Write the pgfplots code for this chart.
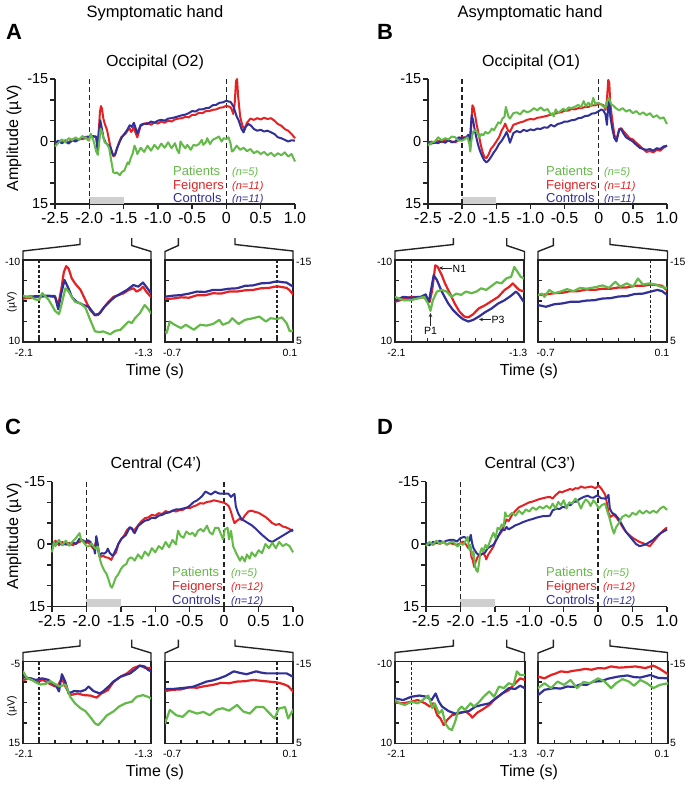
\documentclass[border=0pt]{standalone}
\usepackage{pgfplots}
\pgfplotsset{compat=1.18}
\usepackage{pgfplotstable}
\usepackage{fontspec}
\setmainfont{Liberation Sans}
\usetikzlibrary{arrows.meta}

\definecolor{pg}{RGB}{100,186,72}
\definecolor{pr}{RGB}{228,34,36}
\definecolor{pb}{RGB}{48,48,152}
\definecolor{ax}{RGB}{35,35,35}

% ---------------- Panel A (O2, symptomatic) ----------------
\pgfplotstableread[row sep=\\]{t v\\
-2.5 1.2\\-2.45 0.3\\-2.4 -0.5\\-2.35 0.2\\-2.3 -0.8\\-2.25 -0.3\\-2.2 -1.0\\-2.15 -0.4\\
-2.1 -1.3\\-2.075 -0.9\\-2.05 -1.0\\-2.025 -0.4\\-2.0 -0.2\\-1.98 -1.9\\-1.96 -1.1\\-1.94 -0.3\\-1.92 1.0\\-1.9 2.4\\-1.875 3.2\\-1.86 1.0\\-1.835 -3.1\\-1.815 -2.3\\-1.795 -1.0\\-1.775 0.2\\-1.74 0.6\\-1.71 1.6\\-1.68 4.6\\-1.65 7.4\\-1.62 7.6\\-1.6 7.4\\-1.555 8.1\\-1.525 7.3\\-1.49 7.0\\-1.46 5.8\\-1.44 5.0\\-1.42 5.4\\-1.4 4.2\\-1.37 3.0\\-1.34 1.0\\-1.32 1.8\\-1.3 3.0\\
-1.25 1.5\\-1.2 2.5\\-1.15 1.0\\-1.1 2.2\\-1.05 0.8\\-1.0 1.8\\-0.95 0.5\\-0.9 1.5\\-0.85 0.2\\-0.8 1.6\\-0.75 0.4\\-0.72 2.0\\
-0.69 2.8\\-0.67 0.0\\-0.64 0.8\\-0.6 1.6\\-0.57 0.8\\-0.52 2.0\\-0.48 0.8\\-0.44 1.0\\-0.4 0.6\\-0.36 -0.4\\-0.34 0.8\\-0.3 0.2\\-0.28 -0.8\\-0.24 0.6\\-0.2 -0.4\\-0.15 -0.8\\-0.11 -1.2\\-0.07 0.0\\-0.04 -0.8\\0.0 -0.6\\0.03 -1.0\\0.06 0.4\\0.08 2.4\\0.1 2.2\\
0.15 1.0\\0.2 2.0\\0.25 1.5\\0.3 2.3\\0.35 1.8\\0.4 2.8\\0.45 2.3\\0.5 3.0\\0.55 2.5\\0.6 3.3\\0.65 2.7\\0.7 3.5\\0.75 2.8\\0.8 3.3\\0.85 2.6\\0.9 3.6\\0.95 3.0\\1.0 4.8\\
}\Ag
\pgfplotstableread[row sep=\\]{t v\\
-2.5 0.5\\-2.45 0.0\\-2.4 0.3\\-2.35 -0.3\\-2.3 0.2\\-2.25 -0.5\\-2.2 -0.3\\-2.15 -0.6\\
-2.1 -0.6\\-2.05 -0.8\\-2.0 -1.0\\-1.95 -1.2\\-1.9 -1.0\\-1.88 1.0\\-1.86 -3.0\\-1.845 -7.0\\-1.83 -8.5\\-1.815 -7.9\\-1.795 -5.5\\-1.775 -4.3\\-1.74 -2.7\\-1.71 -0.2\\-1.68 2.2\\-1.65 3.5\\-1.63 3.4\\-1.6 1.8\\-1.565 0.2\\-1.535 -1.0\\-1.5 -1.5\\-1.47 -1.9\\-1.44 -2.7\\-1.41 -3.1\\-1.39 -2.3\\-1.37 -2.7\\-1.35 -3.5\\-1.33 -2.3\\-1.3 -1.0\\
-1.25 -3.8\\-1.2 -4.2\\-1.15 -4.5\\-1.1 -4.0\\-1.05 -4.6\\-1.0 -4.3\\-0.95 -4.8\\-0.9 -4.5\\-0.85 -5.0\\-0.8 -4.8\\-0.75 -5.3\\
-0.7 -5.5\\-0.65 -5.6\\-0.6 -5.9\\-0.55 -5.8\\-0.5 -6.4\\-0.45 -6.4\\-0.4 -6.9\\-0.35 -6.8\\-0.3 -7.3\\-0.25 -7.3\\-0.2 -7.6\\-0.15 -7.7\\-0.1 -8.1\\-0.05 -8.2\\0.0 -8.6\\0.03 -8.4\\0.06 -8.2\\0.08 -7.6\\0.1 -6.6\\
0.12 -9.0\\0.14 -14.5\\0.155 -15.0\\0.17 -11.0\\0.2 -6.0\\0.23 -4.0\\0.26 -2.8\\0.3 -4.5\\0.35 -5.5\\0.4 -5.2\\0.45 -5.6\\0.5 -5.3\\0.55 -5.7\\0.6 -5.4\\0.65 -5.6\\0.7 -5.0\\0.75 -4.2\\0.8 -3.8\\0.85 -3.0\\0.9 -2.6\\0.95 -1.8\\1.0 -0.8\\
}\Ar
\pgfplotstableread[row sep=\\]{t v\\
-2.5 0.3\\-2.45 -0.2\\-2.4 0.4\\-2.35 0.0\\-2.3 0.5\\-2.25 -0.3\\-2.2 0.0\\-2.15 -0.5\\
-2.1 -1.0\\-2.05 -1.1\\-2.0 -1.2\\-1.95 -1.3\\-1.9 -1.2\\-1.88 2.0\\-1.86 -2.0\\-1.84 -5.1\\-1.815 -3.0\\-1.795 -1.0\\-1.765 0.2\\-1.72 1.0\\-1.69 1.4\\-1.65 3.4\\-1.62 3.0\\-1.59 1.4\\-1.555 0.0\\-1.525 -1.0\\-1.49 -1.8\\-1.45 -2.7\\-1.41 -3.9\\-1.38 -3.5\\-1.35 -4.5\\-1.33 -3.5\\-1.3 -1.9\\
-1.25 -4.0\\-1.2 -4.3\\-1.15 -4.2\\-1.1 -4.8\\-1.05 -4.5\\-1.0 -5.0\\-0.95 -5.2\\-0.9 -5.0\\-0.85 -5.5\\-0.8 -5.6\\-0.75 -5.8\\
-0.7 -6.05\\-0.65 -6.3\\-0.6 -6.45\\-0.55 -6.8\\-0.5 -7.3\\-0.45 -7.2\\-0.4 -7.7\\-0.35 -7.7\\-0.3 -8.0\\-0.25 -8.1\\-0.2 -8.7\\-0.15 -8.8\\-0.1 -9.3\\-0.05 -9.4\\0.0 -9.8\\0.03 -9.6\\0.06 -9.5\\0.08 -9.0\\0.1 -8.5\\
0.12 -7.5\\0.15 -6.0\\0.18 -5.0\\0.22 -3.0\\0.25 -2.2\\0.28 -3.5\\0.32 -4.2\\0.36 -3.8\\0.4 -3.0\\0.45 -2.6\\0.5 -2.8\\0.55 -2.4\\0.6 -2.6\\0.65 -2.2\\0.7 -1.8\\0.75 -1.0\\0.8 -0.8\\0.85 -0.4\\0.9 0.0\\0.95 -0.3\\1.0 -0.2\\
}\Ab

% ---------------- Panel B (O1, asymptomatic) ----------------
\pgfplotstableread[row sep=\\]{t v\\
-2.5 1.0\\-2.45 0.3\\-2.4 0.0\\-2.35 -1.0\\-2.3 -0.3\\-2.25 -0.8\\-2.2 -0.5\\-2.15 -1.2\\
-2.1 -1.0\\-2.05 -0.2\\-2.0 -0.2\\-1.96 -0.6\\-1.92 -1.0\\-1.895 0.6\\-1.88 2.4\\-1.865 -0.2\\-1.84 -2.3\\-1.81 -2.7\\-1.78 -2.3\\-1.75 -1.0\\-1.72 -1.8\\-1.69 -1.5\\-1.66 -2.3\\-1.625 -1.9\\-1.595 -2.3\\-1.565 -3.1\\-1.535 -2.7\\-1.5 -3.7\\-1.47 -4.6\\-1.44 -4.3\\-1.41 -5.5\\-1.38 -5.9\\-1.36 -8.3\\-1.34 -7.1\\-1.32 -5.9\\-1.3 -5.5\\
-1.25 -6.8\\-1.2 -7.0\\-1.15 -6.5\\-1.1 -7.5\\-1.05 -7.0\\-1.0 -7.3\\-0.95 -8.0\\-0.9 -7.5\\-0.85 -8.2\\-0.8 -7.4\\-0.75 -7.8\\
-0.7 -6.45\\-0.675 -6.8\\-0.66 -6.0\\-0.63 -7.7\\-0.6 -6.9\\-0.56 -7.3\\-0.52 -7.9\\-0.48 -7.4\\-0.44 -8.2\\-0.4 -8.0\\-0.34 -8.4\\-0.3 -8.8\\-0.26 -8.2\\-0.22 -9.7\\-0.19 -8.5\\-0.15 -9.3\\-0.11 -8.5\\-0.08 -10.5\\-0.05 -9.0\\-0.01 -9.3\\0.03 -9.0\\0.06 -8.5\\0.1 -8.1\\
0.12 -9.5\\0.15 -10.5\\0.18 -9.0\\0.22 -8.5\\0.25 -8.0\\0.3 -7.5\\0.35 -8.0\\0.4 -7.2\\0.45 -7.6\\0.5 -6.8\\0.55 -7.3\\0.6 -6.5\\0.65 -7.0\\0.7 -6.3\\0.75 -6.8\\0.8 -5.8\\0.85 -6.3\\0.9 -5.5\\0.95 -5.8\\1.0 -4.2\\
}\Bg
\pgfplotstableread[row sep=\\]{t v\\
-2.5 0.5\\-2.45 0.0\\-2.4 0.4\\-2.35 -0.2\\-2.3 0.2\\-2.25 -0.4\\-2.2 -0.2\\-2.15 0.0\\
-2.1 0.2\\-2.05 -0.4\\-2.0 -1.0\\-1.95 -1.0\\-1.915 -0.8\\-1.885 0.2\\-1.87 -2.5\\-1.85 -8.7\\-1.835 -8.3\\-1.81 -6.3\\-1.79 -4.3\\-1.76 -1.9\\-1.73 0.6\\-1.7 2.6\\-1.67 3.8\\-1.645 4.0\\-1.615 3.2\\-1.58 1.8\\-1.54 1.0\\-1.5 0.0\\-1.46 -1.0\\-1.42 -2.7\\-1.39 -3.5\\-1.37 -4.3\\-1.35 -3.5\\-1.33 -2.7\\-1.3 -2.3\\
-1.25 -4.0\\-1.2 -4.3\\-1.15 -4.6\\-1.1 -4.8\\-1.05 -5.2\\-1.0 -5.4\\-0.95 -5.3\\-0.9 -5.7\\-0.85 -5.8\\-0.8 -6.0\\-0.75 -6.2\\
-0.7 -6.45\\-0.65 -6.6\\-0.6 -6.9\\-0.55 -7.0\\-0.5 -7.4\\-0.45 -7.4\\-0.4 -7.8\\-0.35 -7.7\\-0.3 -8.0\\-0.25 -8.0\\-0.2 -8.3\\-0.15 -8.3\\-0.1 -8.7\\-0.05 -8.7\\0.0 -9.0\\0.04 -8.9\\0.07 -8.7\\0.1 -7.6\\
0.12 -10.0\\0.14 -14.8\\0.155 -14.0\\0.17 -9.0\\0.2 -5.0\\0.23 -1.5\\0.26 -0.5\\0.3 -3.0\\0.33 -3.2\\0.36 -2.5\\0.4 -1.8\\0.45 -0.8\\0.5 -0.5\\0.55 0.3\\0.6 1.0\\0.65 1.8\\0.7 2.5\\0.75 2.3\\0.8 2.6\\0.85 2.0\\0.9 2.2\\0.95 1.5\\1.0 1.0\\
}\Br
\pgfplotstableread[row sep=\\]{t v\\
-2.5 0.0\\-2.45 0.5\\-2.4 0.2\\-2.35 0.4\\-2.3 -0.2\\-2.25 0.3\\-2.2 -0.3\\-2.15 0.2\\
-2.1 0.0\\-2.05 -1.0\\-2.0 -0.8\\-1.94 -1.0\\-1.91 -1.6\\-1.89 0.2\\-1.86 -6.3\\-1.84 -5.1\\-1.81 -2.3\\-1.77 0.6\\-1.74 2.2\\-1.71 3.4\\-1.68 4.4\\-1.645 5.0\\-1.615 4.6\\-1.58 3.8\\-1.54 2.7\\-1.5 1.8\\-1.46 0.6\\-1.42 -0.2\\-1.38 -1.3\\-1.35 -2.3\\-1.33 -1.5\\-1.3 0.3\\
-1.25 -2.0\\-1.2 -2.5\\-1.15 -2.2\\-1.1 -2.8\\-1.05 -2.5\\-1.0 -2.9\\-0.95 -2.7\\-0.9 -3.1\\-0.85 -3.0\\-0.8 -3.4\\-0.75 -3.3\\
-0.7 -4.0\\-0.65 -3.6\\-0.6 -4.2\\-0.55 -4.4\\-0.5 -4.8\\-0.45 -4.8\\-0.4 -5.1\\-0.35 -5.2\\-0.3 -5.6\\-0.25 -5.7\\-0.2 -6.1\\-0.15 -6.2\\-0.1 -6.7\\-0.05 -6.8\\0.0 -7.3\\0.04 -7.7\\0.07 -7.4\\0.1 -6.5\\
0.12 -4.0\\0.14 -8.5\\0.155 -10.0\\0.17 -6.0\\0.2 -3.0\\0.23 -0.8\\0.26 0.0\\0.3 -2.8\\0.33 -3.0\\0.36 -2.0\\0.4 -1.0\\0.45 -0.5\\0.5 0.0\\0.55 0.8\\0.6 1.5\\0.65 1.8\\0.7 2.0\\0.75 1.8\\0.8 2.2\\0.85 1.6\\0.9 1.8\\0.95 1.2\\1.0 1.0\\
}\Bb

% ---------------- Panel C (C4', symptomatic) ----------------
\pgfplotstableread[row sep=\\]{t v\\
-2.5 2.0\\-2.47 -0.5\\-2.45 0.5\\-2.4 -1.0\\-2.35 0.3\\-2.3 -0.8\\-2.25 0.4\\-2.2 -0.6\\-2.15 -1.5\\
-2.1 -2.6\\-2.075 -0.9\\-2.045 -0.5\\-2.01 0.3\\-1.99 0.6\\-1.96 0.5\\-1.93 -0.2\\-1.9 0.5\\-1.87 1.1\\-1.835 0.6\\-1.805 3.6\\-1.775 5.2\\-1.74 6.4\\-1.71 7.1\\-1.68 8.5\\-1.65 10.1\\-1.63 10.5\\-1.61 9.7\\-1.575 8.1\\-1.535 7.2\\-1.5 6.0\\-1.46 5.2\\-1.42 4.8\\-1.39 3.6\\-1.35 3.2\\-1.32 3.6\\-1.3 4.0\\
-1.25 2.5\\-1.2 3.5\\-1.15 1.8\\-1.1 2.8\\-1.05 1.0\\-1.0 2.0\\-0.95 0.5\\-0.9 1.2\\-0.85 -0.5\\-0.8 0.8\\-0.75 -1.0\\
-0.7 0.1\\-0.67 -3.2\\-0.63 -1.9\\-0.59 -1.5\\-0.55 -3.0\\-0.5 -2.3\\-0.46 -2.7\\-0.42 -1.9\\-0.38 -3.2\\-0.34 -3.6\\-0.3 -3.0\\-0.25 -4.4\\-0.21 -2.8\\-0.17 -2.3\\-0.13 -3.9\\-0.085 -3.9\\-0.045 -2.3\\-0.015 -1.1\\0.01 -3.5\\0.05 -3.9\\0.07 -1.1\\0.1 -3.2\\
0.13 0.5\\0.17 2.0\\0.2 3.0\\0.23 4.0\\0.26 3.0\\0.3 4.2\\0.33 2.5\\0.37 3.5\\0.4 2.0\\0.45 3.0\\0.5 1.5\\0.55 2.2\\0.6 0.0\\0.65 1.0\\0.7 -0.3\\0.75 1.0\\0.8 -0.5\\0.85 0.5\\0.9 0.0\\0.95 0.5\\1.0 2.0\\
}\Cg
\pgfplotstableread[row sep=\\]{t v\\
-2.5 0.5\\-2.45 -0.8\\-2.4 0.3\\-2.35 -0.5\\-2.3 0.2\\-2.25 -0.3\\-2.2 0.3\\-2.15 -0.2\\
-2.1 -0.5\\-2.05 -0.9\\-2.01 -0.1\\-1.975 -0.5\\-1.94 0.3\\-1.9 1.1\\-1.88 0.7\\-1.857 -0.9\\-1.835 1.1\\-1.805 3.2\\-1.76 2.8\\-1.72 3.2\\-1.68 3.3\\-1.64 3.8\\-1.61 2.8\\-1.57 2.0\\-1.535 0.0\\-1.49 -1.3\\-1.45 -2.1\\-1.41 -3.4\\-1.37 -4.0\\-1.34 -3.5\\-1.3 -3.4\\
-1.25 -4.5\\-1.2 -5.5\\-1.15 -6.2\\-1.1 -6.4\\-1.05 -7.0\\-1.0 -6.8\\-0.95 -7.4\\-0.9 -7.2\\-0.85 -7.9\\-0.8 -7.6\\-0.75 -8.0\\
-0.7 -7.8\\-0.65 -8.1\\-0.6 -8.2\\-0.55 -8.7\\-0.5 -8.6\\-0.45 -9.0\\-0.4 -9.3\\-0.35 -9.8\\-0.3 -9.7\\-0.25 -10.1\\-0.2 -10.2\\-0.15 -10.5\\-0.1 -10.3\\-0.05 -10.1\\0.0 -9.9\\0.04 -9.5\\0.07 -9.0\\0.1 -7.7\\
0.12 -6.5\\0.15 -5.0\\0.18 -5.5\\0.22 -6.0\\0.26 -5.8\\0.3 -6.8\\0.35 -7.8\\0.4 -8.0\\0.45 -7.7\\0.5 -7.5\\0.55 -7.0\\0.6 -6.5\\0.65 -5.8\\0.7 -5.0\\0.75 -4.6\\0.8 -4.8\\0.85 -4.2\\0.9 -4.0\\0.95 -3.6\\1.0 -3.0\\
}\Cr
\pgfplotstableread[row sep=\\]{t v\\
-2.5 0.3\\-2.45 0.0\\-2.4 -0.3\\-2.35 0.2\\-2.3 -0.2\\-2.25 0.3\\-2.2 -0.4\\-2.15 0.0\\
-2.1 -1.3\\-2.06 -0.9\\-2.02 -0.5\\-1.98 -0.9\\-1.94 -0.5\\-1.89 1.1\\-1.875 2.3\\-1.857 -1.9\\-1.835 0.0\\-1.815 2.8\\-1.78 2.2\\-1.74 2.3\\-1.71 1.9\\-1.69 1.1\\-1.66 2.2\\-1.62 2.8\\-1.6 2.3\\-1.565 1.1\\-1.535 -0.1\\-1.49 -1.3\\-1.46 -1.7\\-1.43 -2.1\\-1.4 -3.0\\-1.37 -4.0\\-1.34 -3.8\\-1.32 -3.0\\-1.3 -2.6\\
-1.25 -4.3\\-1.2 -5.0\\-1.15 -5.6\\-1.1 -5.8\\-1.05 -6.3\\-1.0 -6.2\\-0.95 -6.8\\-0.9 -7.0\\-0.85 -7.4\\-0.8 -7.6\\-0.75 -8.0\\
-0.7 -8.3\\-0.65 -8.3\\-0.6 -8.5\\-0.55 -8.7\\-0.52 -8.9\\-0.48 -9.5\\-0.44 -10.1\\-0.4 -10.4\\-0.36 -10.9\\-0.32 -11.5\\-0.27 -12.6\\-0.23 -12.2\\-0.19 -11.9\\-0.13 -12.6\\-0.1 -12.3\\-0.066 -12.1\\0.0 -12.1\\0.06 -12.1\\0.1 -11.3\\
0.13 -11.8\\0.15 -12.0\\0.17 -9.0\\0.2 -7.5\\0.25 -6.0\\0.3 -5.5\\0.35 -5.0\\0.4 -4.5\\0.45 -3.8\\0.5 -3.0\\0.55 -2.2\\0.6 -1.5\\0.65 -0.8\\0.7 -0.5\\0.75 -1.0\\0.8 -1.5\\0.85 -2.0\\0.9 -2.5\\0.95 -3.0\\1.0 -3.5\\
}\Cb

% ---------------- Panel D (C3', asymptomatic) ----------------
\pgfplotstableread[row sep=\\]{t v\\
-2.5 0.5\\-2.45 -0.5\\-2.4 0.2\\-2.35 -0.8\\-2.3 0.0\\-2.25 -0.6\\-2.2 0.2\\-2.15 -0.4\\
-2.1 -0.6\\-2.07 0.2\\-2.04 0.6\\-2.0 -0.2\\-1.96 0.2\\-1.93 -0.6\\-1.895 -1.7\\-1.87 1.4\\-1.855 0.2\\-1.83 2.7\\-1.81 1.8\\-1.79 5.1\\-1.77 6.3\\-1.75 6.7\\-1.73 4.7\\-1.71 1.8\\-1.69 1.0\\-1.67 1.8\\-1.635 0.2\\-1.615 1.0\\-1.585 0.0\\-1.555 -1.4\\-1.52 -2.7\\-1.49 -1.4\\-1.46 -3.9\\-1.43 -3.5\\-1.4 -4.7\\-1.37 -4.3\\-1.35 -7.6\\-1.33 -6.7\\-1.3 -6.7\\
-1.25 -7.5\\-1.2 -6.8\\-1.15 -8.0\\-1.1 -7.2\\-1.05 -8.3\\-1.0 -7.8\\-0.95 -8.8\\-0.9 -8.2\\-0.85 -9.0\\-0.8 -8.5\\-0.75 -9.2\\
-0.7 -8.5\\-0.66 -9.7\\-0.62 -8.5\\-0.58 -10.1\\-0.54 -9.3\\-0.5 -10.5\\-0.46 -8.5\\-0.42 -10.0\\-0.38 -9.7\\-0.33 -10.9\\-0.29 -10.1\\-0.25 -8.5\\-0.22 -9.7\\-0.18 -10.7\\-0.14 -10.1\\-0.11 -9.1\\-0.07 -10.5\\-0.03 -9.7\\0.01 -8.5\\0.05 -9.3\\0.1 -9.7\\
0.13 -8.0\\0.16 -6.5\\0.2 -4.0\\0.23 -2.5\\0.26 -4.0\\0.3 -5.0\\0.35 -6.5\\0.4 -7.0\\0.45 -6.5\\0.5 -7.5\\0.55 -7.0\\0.6 -8.0\\0.65 -7.3\\0.7 -8.0\\0.75 -7.4\\0.8 -8.0\\0.85 -7.5\\0.9 -8.5\\0.95 -9.0\\1.0 -8.2\\
}\Dg
\pgfplotstableread[row sep=\\]{t v\\
-2.5 0.3\\-2.45 -0.3\\-2.4 0.2\\-2.35 -0.4\\-2.3 0.0\\-2.25 -0.5\\-2.2 0.1\\-2.15 -0.2\\
-2.1 0.0\\-2.05 0.2\\-2.0 -0.2\\-1.96 -0.6\\-1.915 0.2\\-1.885 1.0\\-1.865 0.2\\-1.84 3.1\\-1.82 3.9\\-1.8 5.5\\-1.78 4.3\\-1.75 3.1\\-1.71 2.7\\-1.665 2.2\\-1.635 3.1\\-1.625 3.7\\-1.595 2.5\\-1.565 1.8\\-1.52 0.6\\-1.48 -1.0\\-1.44 -2.2\\-1.4 -3.0\\-1.36 -4.7\\-1.33 -5.9\\-1.3 -5.5\\
-1.25 -7.0\\-1.2 -8.0\\-1.15 -8.8\\-1.1 -9.2\\-1.05 -9.6\\-1.0 -10.0\\-0.95 -10.2\\-0.9 -10.5\\-0.85 -10.8\\-0.8 -11.0\\-0.75 -11.2\\
-0.7 -11.3\\-0.66 -10.9\\-0.62 -11.7\\-0.59 -12.1\\-0.56 -12.6\\-0.52 -12.4\\-0.49 -12.7\\-0.45 -12.9\\-0.41 -13.2\\-0.37 -13.0\\-0.33 -13.4\\-0.29 -13.3\\-0.25 -13.8\\-0.2 -13.5\\-0.16 -13.6\\-0.1 -13.8\\-0.04 -13.4\\0.01 -14.0\\0.05 -13.2\\0.1 -11.9\\
0.12 -10.5\\0.15 -7.5\\0.18 -6.5\\0.22 -7.0\\0.26 -6.5\\0.3 -5.5\\0.35 -4.2\\0.4 -3.0\\0.45 -2.2\\0.5 -1.5\\0.55 -1.0\\0.6 -0.5\\0.65 -0.2\\0.7 0.2\\0.75 0.5\\0.8 -0.5\\0.85 -1.5\\0.9 -2.5\\0.95 -3.3\\1.0 -4.0\\
}\Dr
\pgfplotstableread[row sep=\\]{t v\\
-2.5 -0.3\\-2.45 0.3\\-2.4 -0.5\\-2.35 -0.2\\-2.3 -0.8\\-2.25 -0.4\\-2.2 -0.8\\-2.15 -1.0\\
-2.1 -1.0\\-2.05 -0.6\\-2.0 -1.4\\-1.95 -1.7\\-1.905 -1.4\\-1.875 -0.6\\-1.85 -2.2\\-1.83 -0.2\\-1.81 1.0\\-1.77 2.1\\-1.73 2.7\\-1.69 2.4\\-1.645 2.1\\-1.605 1.0\\-1.565 0.6\\-1.52 0.2\\-1.48 -1.0\\-1.44 -2.2\\-1.4 -3.5\\-1.36 -3.3\\-1.33 -4.1\\-1.3 -3.5\\
-1.25 -4.0\\-1.2 -4.5\\-1.15 -4.8\\-1.1 -5.2\\-1.05 -5.5\\-1.0 -5.8\\-0.95 -6.0\\-0.9 -6.3\\-0.85 -6.5\\-0.8 -6.7\\-0.75 -6.7\\
-0.7 -6.8\\-0.66 -8.1\\-0.6 -8.5\\-0.56 -8.4\\-0.52 -8.9\\-0.48 -8.8\\-0.44 -9.4\\-0.4 -9.3\\-0.36 -10.1\\-0.31 -10.2\\-0.27 -10.8\\-0.21 -11.3\\-0.15 -11.6\\-0.11 -11.2\\-0.07 -11.1\\-0.01 -11.7\\0.04 -11.0\\0.1 -10.9\\
0.12 -11.0\\0.15 -11.8\\0.17 -8.5\\0.2 -7.5\\0.25 -7.0\\0.3 -6.0\\0.35 -4.5\\0.4 -3.0\\0.45 -2.0\\0.5 -1.0\\0.55 0.0\\0.6 0.5\\0.65 0.3\\0.7 0.0\\0.75 -0.5\\0.8 -1.0\\0.85 -1.8\\0.9 -2.5\\0.95 -3.0\\1.0 -3.5\\
}\Db

\tikzset{
  vd/.style={line width=1.4pt, ax, dash pattern=on 5pt off 3pt},
  vdi/.style={line width=1.2pt, ax, dash pattern=on 3pt off 2pt},
  brk/.style={line width=1.4pt, ax},
  tl/.style={font=\fontsize{10.5}{10.5}\selectfont, inner sep=0pt}
}
\pgfplotsset{
  dat/.style={line width=2pt, line join=round},
  dati/.style={line width=2.2pt, line join=round},
  mainax/.style={scale only axis, anchor=south west, height=125pt,
    xmin=-2.5, xmax=1, ymin=-15, ymax=15, y dir=reverse,
    axis x line*=bottom, axis y line*=left, clip=false,
    tick align=outside, major tick length=5pt,
    xtick={-2.5,-2,-1.5,-1,-0.5,0,0.5,1},
    xticklabels={-2.5,-2.0,-1.5,-1.0,-0.5,0,0.5,1.0},
    ytick={-15,-10,-5,0,5,10,15}, yticklabels={-15,,,0,,,15},
    axis line style={line width=1.6pt, ax},
    tick style={line width=1.5pt, ax},
    xticklabel style={font=\fontsize{16}{16}\selectfont},
    yticklabel style={font=\fontsize{14.5}{14.5}\selectfont, inner sep=1.5pt}},
  ins/.style={scale only axis, anchor=south west, height=82pt, y dir=reverse,
    tick align=inside, major tick length=4pt, xtick pos=bottom, ytick pos=left,
    xticklabels={}, yticklabels={},
    axis line style={line width=1.6pt, ax}, tick style={line width=1.2pt, ax}}
}

\begin{document}
\begin{tikzpicture}
\useasboundingbox (0pt,0pt) rectangle (689pt,-785pt);

% ======== titles ========
\node[anchor=base, font=\fontsize{16.5}{16.5}\selectfont] at (155pt,-17pt) {Symptomatic hand};
\node[anchor=base, font=\fontsize{16.5}{16.5}\selectfont] at (530pt,-17pt) {Asymptomatic hand};
\node[anchor=base west, font=\fontsize{22}{22}\selectfont\bfseries, inner sep=0pt] at (6pt,-39pt) {A};
\node[anchor=base west, font=\fontsize{22}{22}\selectfont\bfseries, inner sep=0pt] at (377pt,-39pt) {B};
\node[anchor=base west, font=\fontsize{22}{22}\selectfont\bfseries, inner sep=0pt] at (5pt,-434pt) {C};
\node[anchor=base west, font=\fontsize{22}{22}\selectfont\bfseries, inner sep=0pt] at (377pt,-434pt) {D};
\node[anchor=base, font=\fontsize{16}{16}\selectfont] at (155pt,-66.5pt) {Occipital (O2)};
\node[anchor=base, font=\fontsize{16}{16}\selectfont] at (531pt,-66.5pt) {Occipital (O1)};
\node[anchor=base, font=\fontsize{16}{16}\selectfont] at (156pt,-468pt) {Central (C4')};
\node[anchor=base, font=\fontsize{16}{16}\selectfont] at (530pt,-468pt) {Central (C3')};
\node[rotate=90, font=\fontsize{16}{16}\selectfont] at (14pt,-138pt) {Amplitude (µV)};
\node[rotate=90, font=\fontsize{16}{16}\selectfont] at (14pt,-536pt) {Amplitude (µV)};

% ======== Panel A main ========
\begin{axis}[mainax, at={(55pt,-204pt)}, width=240pt]
\fill[gray!38] (axis cs:-2,15) rectangle (axis cs:-1.5,13.3);
\draw[vd] (axis cs:-2,-15) -- (axis cs:-2,15);
\draw[vd] (axis cs:0,-15) -- (axis cs:0,15);
\addplot[pr,dat] table[x=t,y=v]{\Ar};
\addplot[pb,dat] table[x=t,y=v]{\Ab};
\addplot[pg,dat] table[x=t,y=v]{\Ag};
\end{axis}
% ======== Panel B main ========
\begin{axis}[mainax, at={(428pt,-204pt)}, width=239pt]
\fill[gray!38] (axis cs:-2,15) rectangle (axis cs:-1.5,13.3);
\draw[vd] (axis cs:-2,-15) -- (axis cs:-2,15);
\draw[vd] (axis cs:0,-15) -- (axis cs:0,15);
\addplot[pr,dat] table[x=t,y=v]{\Br};
\addplot[pb,dat] table[x=t,y=v]{\Bb};
\addplot[pg,dat] table[x=t,y=v]{\Bg};
\end{axis}
% ======== Panel C main ========
\begin{axis}[mainax, at={(52pt,-606.5pt)}, width=241pt]
\fill[gray!38] (axis cs:-2,15) rectangle (axis cs:-1.5,13.3);
\draw[vd] (axis cs:-2,-15) -- (axis cs:-2,15);
\draw[vd] (axis cs:0,-15) -- (axis cs:0,15);
\addplot[pr,dat] table[x=t,y=v]{\Cr};
\addplot[pb,dat] table[x=t,y=v]{\Cb};
\addplot[pg,dat] table[x=t,y=v]{\Cg};
\end{axis}
% ======== Panel D main ========
\begin{axis}[mainax, at={(426pt,-606.5pt)}, width=241pt]
\fill[gray!38] (axis cs:-2,15) rectangle (axis cs:-1.5,13.3);
\draw[vd] (axis cs:-2,-15) -- (axis cs:-2,15);
\draw[vd] (axis cs:0,-15) -- (axis cs:0,15);
\addplot[pr,dat] table[x=t,y=v]{\Dr};
\addplot[pb,dat] table[x=t,y=v]{\Db};
\addplot[pg,dat] table[x=t,y=v]{\Dg};
\end{axis}

% ======== legends ========
\foreach \lx/\nx/\by/\nA/\nB in {173/232/0/5/11, 546/604/0/5/11, 172/231/401.5/5/12, 546/603/401.5/5/12}{
  \node[anchor=base west, inner sep=0pt, text=pg, font=\fontsize{13}{13}\selectfont] at (\lx pt,{-(175+\by)*1pt}) {Patients};
  \node[anchor=base west, inner sep=0pt, text=pr, font=\fontsize{13}{13}\selectfont] at (\lx pt,{-(189+\by)*1pt}) {Feigners};
  \node[anchor=base west, inner sep=0pt, text=pb, font=\fontsize{13}{13}\selectfont] at (\lx pt,{-(202.5+\by)*1pt}) {Controls};
  \node[anchor=base west, inner sep=0pt, text=pg, font=\fontsize{11}{11}\selectfont\itshape] at (\nx pt,{-(175+\by)*1pt}) {(n=\nA)};
  \node[anchor=base west, inner sep=0pt, text=pr, font=\fontsize{11}{11}\selectfont\itshape] at (\nx pt,{-(189+\by)*1pt}) {(n=\nB)};
  \node[anchor=base west, inner sep=0pt, text=pb, font=\fontsize{11}{11}\selectfont\itshape] at (\nx pt,{-(202.5+\by)*1pt}) {(n=\nB)};
}

% ======== insets A ========
\begin{axis}[ins, at={(23pt,-342pt)}, width=128pt, xmin=-2.1, xmax=-1.3, ymin=-10, ymax=10,
  xtick={-2,-1.9,-1.8,-1.7,-1.6,-1.5,-1.4}, ytick={-5,0,5}]
\draw[vdi] (axis cs:-2,-10) -- (axis cs:-2,10);
\addplot[pr,dati] table[x=t,y=v]{\Ar};
\addplot[pb,dati] table[x=t,y=v]{\Ab};
\addplot[pg,dati] table[x=t,y=v]{\Ag};
\end{axis}
\begin{axis}[ins, at={(165pt,-342pt)}, width=128pt, xmin=-0.7, xmax=0.1, ymin=-15, ymax=5,
  xtick={-0.6,-0.5,-0.4,-0.3,-0.2,-0.1,0}, ytick={-10,-5,0}]
\draw[vdi] (axis cs:0,-15) -- (axis cs:0,5);
\addplot[pr,dati] table[x=t,y=v]{\Ar};
\addplot[pb,dati] table[x=t,y=v]{\Ab};
\addplot[pg,dati] table[x=t,y=v]{\Ag};
\end{axis}
% ======== insets B ========
\begin{axis}[ins, at={(395pt,-342pt)}, width=129pt, xmin=-2.1, xmax=-1.3, ymin=-10, ymax=10,
  xtick={-2,-1.9,-1.8,-1.7,-1.6,-1.5,-1.4}, ytick={-5,0,5}]
\draw[vdi] (axis cs:-2,-10) -- (axis cs:-2,10);
\addplot[pr,dati] table[x=t,y=v]{\Br};
\addplot[pb,dati] table[x=t,y=v]{\Bb};
\addplot[pg,dati] table[x=t,y=v]{\Bg};
\end{axis}
\begin{axis}[ins, at={(538pt,-342pt)}, width=129pt, xmin=-0.7, xmax=0.1, ymin=-15, ymax=5,
  xtick={-0.6,-0.5,-0.4,-0.3,-0.2,-0.1,0}, ytick={-10,-5,0}]
\draw[vdi] (axis cs:0,-15) -- (axis cs:0,5);
\addplot[pr,dati] table[x=t,y=v]{\Br};
\addplot[pb,dati] table[x=t,y=v]{\Bb};
\addplot[pg,dati] table[x=t,y=v]{\Bg};
\end{axis}
% ======== insets C ========
\begin{axis}[ins, at={(23pt,-743.5pt)}, width=128pt, xmin=-2.1, xmax=-1.3, ymin=-5, ymax=15,
  xtick={-2,-1.9,-1.8,-1.7,-1.6,-1.5,-1.4}, ytick={0,5,10}]
\draw[vdi] (axis cs:-2,-5) -- (axis cs:-2,15);
\addplot[pr,dati] table[x=t,y=v]{\Cr};
\addplot[pb,dati] table[x=t,y=v]{\Cb};
\addplot[pg,dati] table[x=t,y=v]{\Cg};
\end{axis}
\begin{axis}[ins, at={(165pt,-743.5pt)}, width=128pt, xmin=-0.7, xmax=0.1, ymin=-15, ymax=5,
  xtick={-0.6,-0.5,-0.4,-0.3,-0.2,-0.1,0}, ytick={-10,-5,0}]
\draw[vdi] (axis cs:0,-15) -- (axis cs:0,5);
\addplot[pr,dati] table[x=t,y=v]{\Cr};
\addplot[pb,dati] table[x=t,y=v]{\Cb};
\addplot[pg,dati] table[x=t,y=v]{\Cg};
\end{axis}
% ======== insets D ========
\begin{axis}[ins, at={(395pt,-743.5pt)}, width=130pt, xmin=-2.1, xmax=-1.3, ymin=-10, ymax=10,
  xtick={-2,-1.9,-1.8,-1.7,-1.6,-1.5,-1.4}, ytick={-5,0,5}]
\draw[vdi] (axis cs:-2,-10) -- (axis cs:-2,10);
\addplot[pr,dati] table[x=t,y=v]{\Dr};
\addplot[pb,dati] table[x=t,y=v]{\Db};
\addplot[pg,dati] table[x=t,y=v]{\Dg};
\end{axis}
\begin{axis}[ins, at={(538pt,-743.5pt)}, width=130pt, xmin=-0.7, xmax=0.1, ymin=-15, ymax=5,
  xtick={-0.6,-0.5,-0.4,-0.3,-0.2,-0.1,0}, ytick={-10,-5,0}]
\draw[vdi] (axis cs:0,-15) -- (axis cs:0,5);
\addplot[pr,dati] table[x=t,y=v]{\Dr};
\addplot[pb,dati] table[x=t,y=v]{\Db};
\addplot[pg,dati] table[x=t,y=v]{\Dg};
\end{axis}

% ======== brackets ========
\foreach \dy in {0,401.5}{
  \draw[brk] (80pt,{-(238+\dy)*1pt}) -- (80pt,{-(244.5+\dy)*1pt}) -- (23pt,{-(251+\dy)*1pt}) -- (23pt,{-(259.5+\dy)*1pt});
  \draw[brk] (131.7pt,{-(238+\dy)*1pt}) -- (131.7pt,{-(245.5+\dy)*1pt}) -- (151pt,{-(251.5+\dy)*1pt}) -- (151pt,{-(259.5+\dy)*1pt});
  \draw[brk] (178.3pt,{-(238+\dy)*1pt}) -- (178.3pt,{-(245.5+\dy)*1pt}) -- (165pt,{-(251.5+\dy)*1pt}) -- (165pt,{-(259.5+\dy)*1pt});
  \draw[brk] (235pt,{-(238+\dy)*1pt}) -- (235pt,{-(244.5+\dy)*1pt}) -- (293pt,{-(251+\dy)*1pt}) -- (293pt,{-(259.5+\dy)*1pt});
  \draw[brk] (453.3pt,{-(238+\dy)*1pt}) -- (453.3pt,{-(244.5+\dy)*1pt}) -- (395pt,{-(251+\dy)*1pt}) -- (395pt,{-(259.5+\dy)*1pt});
  \draw[brk] (506.7pt,{-(238+\dy)*1pt}) -- (506.7pt,{-(245.5+\dy)*1pt}) -- (524.5pt,{-(251.5+\dy)*1pt}) -- (524.5pt,{-(259.5+\dy)*1pt});
  \draw[brk] (553.3pt,{-(238+\dy)*1pt}) -- (553.3pt,{-(245.5+\dy)*1pt}) -- (538pt,{-(251.5+\dy)*1pt}) -- (538pt,{-(259.5+\dy)*1pt});
  \draw[brk] (610pt,{-(238+\dy)*1pt}) -- (610pt,{-(244.5+\dy)*1pt}) -- (667.5pt,{-(251+\dy)*1pt}) -- (667.5pt,{-(259.5+\dy)*1pt});
}

% ======== inset tick labels ========
\foreach \dy/\ta/\tb in {0/-10/10, 401.5/-5/15}{
  \node[tl, anchor=east] at (20.5pt,{-(262+\dy)*1pt}) {\ta};
  \node[tl, anchor=east] at (20.5pt,{-(341+\dy)*1pt}) {\tb};
}
\foreach \dy in {0,401.5}{
  \node[tl, anchor=west] at (296pt,{-(262+\dy)*1pt}) {-15};
  \node[tl, anchor=west] at (296pt,{-(341+\dy)*1pt}) {5};
  \node[tl, anchor=east] at (392.5pt,{-(262+\dy)*1pt}) {-10};
  \node[tl, anchor=east] at (392.5pt,{-(341+\dy)*1pt}) {10};
  \node[tl, anchor=west] at (670pt,{-(262+\dy)*1pt}) {-15};
  \node[tl, anchor=west] at (670pt,{-(341+\dy)*1pt}) {5};
  \node[tl, anchor=north] at (24pt,{-(348.5+\dy)*1pt}) {-2.1};
  \node[tl, anchor=north east] at (153pt,{-(348.5+\dy)*1pt}) {-1.3};
  \node[tl, anchor=north west] at (163pt,{-(348.5+\dy)*1pt}) {-0.7};
  \node[tl, anchor=north] at (290pt,{-(348.5+\dy)*1pt}) {0.1};
  \node[tl, anchor=north] at (396.5pt,{-(348.5+\dy)*1pt}) {-2.1};
  \node[tl, anchor=north east] at (527.5pt,{-(348.5+\dy)*1pt}) {-1.3};
  \node[tl, anchor=north west] at (536.5pt,{-(348.5+\dy)*1pt}) {-0.7};
  \node[tl, anchor=north] at (662pt,{-(348.5+\dy)*1pt}) {0.1};
  \node[anchor=base, font=\fontsize{16}{16}\selectfont] at (155pt,{-(375+\dy)*1pt}) {Time (s)};
  \node[anchor=base, font=\fontsize{16}{16}\selectfont] at (529pt,{-(375+\dy)*1pt}) {Time (s)};
}
\node[rotate=90, font=\fontsize{10.5}{10.5}\selectfont] at (12pt,-302pt) {(µV)};
\node[rotate=90, font=\fontsize{10.5}{10.5}\selectfont] at (12pt,-706pt) {(µV)};

% ======== ERP component annotations (panel B) ========
\draw[line width=0.8pt, ax, -{Stealth[length=4pt,width=3.5pt]}] (452pt,-268pt) -- (439pt,-268pt);
\node[anchor=west, font=\fontsize{10.5}{10.5}\selectfont, inner sep=0pt] at (452.5pt,-268.5pt) {N1};
\draw[line width=0.8pt, ax, -{Stealth[length=4pt,width=3.5pt]}] (430.5pt,-326pt) -- (430.5pt,-313pt);
\node[anchor=north, font=\fontsize{10.5}{10.5}\selectfont, inner sep=0pt] at (430.5pt,-327pt) {P1};
\draw[line width=0.8pt, ax, -{Stealth[length=4pt,width=3.5pt]}] (491pt,-319.5pt) -- (479pt,-319.5pt);
\node[anchor=west, font=\fontsize{10.5}{10.5}\selectfont, inner sep=0pt] at (491.5pt,-320pt) {P3};
\end{tikzpicture}
\end{document}
